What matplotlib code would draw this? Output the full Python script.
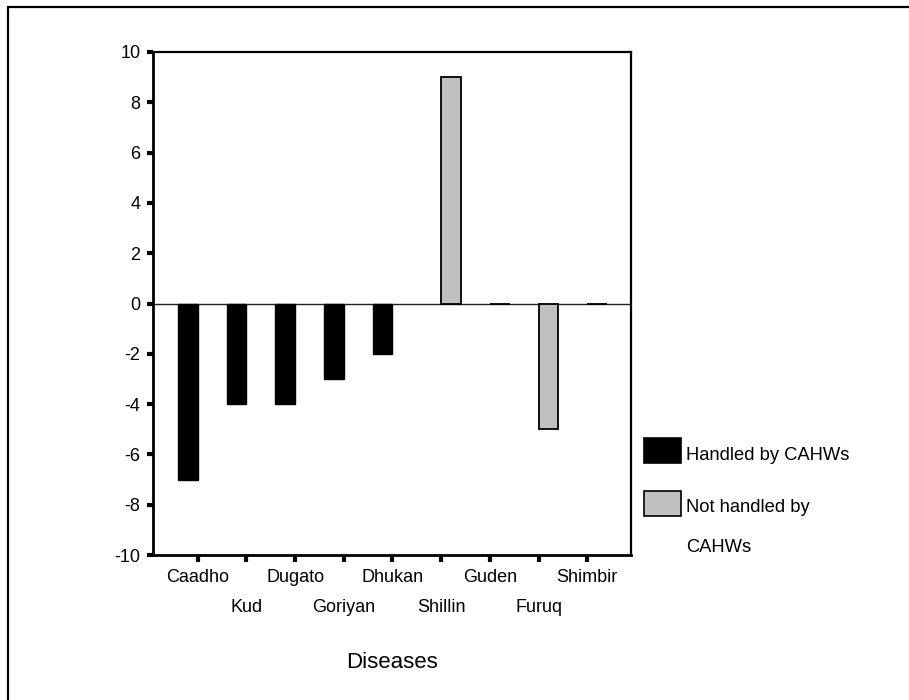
import numpy as np
import matplotlib
matplotlib.use("Agg")
import matplotlib.pyplot as plt
from matplotlib.patches import Rectangle

plt.rcParams['font.family'] = ['Liberation Sans', 'DejaVu Sans']

diseases = ["Caadho", "Kud", "Dugato", "Goriyan", "Dhukan",
            "Shillin", "Guden", "Furuq", "Shimbir"]
handled = [-7, -4, -4, -3, -2, np.nan, np.nan, np.nan, np.nan]
not_handled = [np.nan, np.nan, np.nan, np.nan, np.nan, 9, 0, -5, 0]
yticks = [-10, -8, -6, -4, -2, 0, 2, 4, 6, 8, 10]

W, H = 909, 700
fig = plt.figure(figsize=(W / 100, H / 100), dpi=100)

# outer frame (runs past the right and bottom edges)
fig.add_artist(Rectangle((8 / W, -0.05), 1.2, 1 - 7 / H + 0.05,
                         transform=fig.transFigure, fill=False,
                         edgecolor="black", linewidth=1.6))

L, R, T, B = 153, 631, 52, 555
ax = fig.add_axes([L / W, 1 - B / H, (R - L) / W, (B - T) / H])

x = np.arange(len(diseases))
bw = 0.41
black = ax.bar(x - bw / 2, handled, width=bw, color="black",
               edgecolor="black", linewidth=1.0, zorder=3)
grey = ax.bar(x + bw / 2, not_handled, width=bw, color="#c0c0c0",
              edgecolor="black", linewidth=1.3, zorder=3)

ax.axhline(0, color="#222222", linewidth=1.0, zorder=2)

ax.set_ylim(-10, 10)
ax.set_xlim(-0.92, 8.9)
ax.set_yticks(yticks)
ax.set_yticklabels([str(v) for v in yticks])
ax.set_xticks(x)
ax.set_xticklabels(diseases)

for s in ["left", "bottom"]:
    ax.spines[s].set_linewidth(2.0)
for s in ["top", "right"]:
    ax.spines[s].set_linewidth(1.6)

ax.tick_params(axis="y", direction="out", length=4, width=3, pad=5,
               labelsize=13)
ax.tick_params(axis="x", direction="out", length=5, width=3, pad=5,
               labelsize=13)
for i, tk in enumerate(ax.xaxis.get_major_ticks()):
    if i % 2 == 1:
        tk.set_pad(27)

ax.set_xlabel("Diseases", fontsize=16)
ax.xaxis.set_label_coords(0.5, -(652 - B) / (B - T))

# legend
def box(y0, color):
    fig.add_artist(Rectangle((644 / W, 1 - (y0 + 25) / H), 37 / W, 25 / H,
                             transform=fig.transFigure, facecolor=color,
                             edgecolor="black", linewidth=1.2))

box(438, black.patches[0].get_facecolor())
box(491, grey.patches[5].get_facecolor())
fig.text(686 / W, 1 - 456 / H, "Handled by CAHWs", fontsize=13.2,
         va="center", ha="left")
fig.text(686 / W, 1 - 508 / H, "Not handled by", fontsize=13.2,
         va="center", ha="left")
fig.text(686 / W, 1 - 548 / H, "CAHWs", fontsize=13.2,
         va="center", ha="left")

fig.savefig("out.png", dpi=100, facecolor="white")
